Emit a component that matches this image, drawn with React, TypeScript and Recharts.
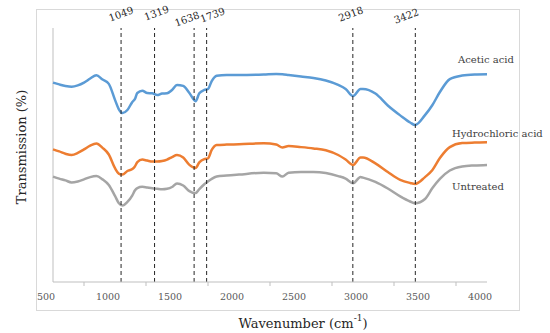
import { LineChart, Line, XAxis, YAxis, ReferenceLine, ReferenceDot } from "recharts";

// FTIR spectra, transmission in arbitrary units (no y scale shown in the figure)
const wavenumbers = [
  500, 550, 600, 650, 700, 750, 800, 850, 900, 950, 1000, 1030, 1060, 1100, 1140, 1160, 1180, 1220, 1260,
  1300, 1340, 1380, 1420, 1460, 1500, 1550, 1600, 1650, 1680, 1720, 1750, 1780, 1820, 1900, 2000, 2200,
  2300, 2350, 2400, 2500, 2600, 2700, 2800, 2860, 2920, 2980, 3000, 3100, 3200, 3300, 3380, 3420, 3500,
  3560, 3620, 3700, 3800, 3900, 4000,
];

const aceticAcid = [
  78.5, 77.8, 77.2, 76.9, 77.4, 78.5, 80.1, 81.4, 79.7, 78.0, 71.7, 68.1, 66.5, 67.7, 70.9, 72.0, 74.4, 75.3,
  74.4, 74.3, 73.6, 74.2, 74.3, 75.6, 77.6, 77.2, 74.4, 71.2, 74.3, 75.6, 76.0, 79.1, 81.2, 81.5, 81.5, 81.7,
  81.9, 81.8, 81.5, 80.9, 80.3, 79.3, 77.6, 76.0, 73.2, 76.0, 76.0, 74.2, 69.5, 65.6, 62.8, 61.8, 65.7, 69.7,
  74.8, 79.9, 81.3, 81.7, 81.8,
];

const hydrochloricAcid = [
  52.2, 51.4, 50.5, 50.0, 50.8, 52.2, 53.7, 54.5, 52.8, 50.2, 44.8, 42.7, 42.3, 43.7, 44.5, 45.5, 47.2, 48.2,
  47.8, 47.4, 47.4, 47.6, 48.2, 49.2, 50.0, 49.0, 46.1, 44.9, 47.1, 48.4, 48.7, 52.0, 53.9, 54.1, 54.2, 54.6,
  54.1, 53.0, 53.5, 53.1, 52.6, 51.9, 50.0, 48.2, 46.1, 49.0, 49.0, 46.7, 43.3, 40.2, 39.0, 38.6, 41.3, 44.1,
  48.8, 53.1, 54.7, 54.9, 55.0,
];

const untreated = [
  41.5, 40.7, 40.0, 39.2, 39.6, 40.4, 41.3, 41.7, 40.4, 38.2, 33.9, 31.1, 30.1, 31.5, 34.1, 36.0, 37.0, 37.5,
  37.2, 36.9, 36.7, 36.5, 36.7, 37.4, 38.8, 38.0, 35.8, 35.0, 36.6, 38.5, 39.6, 40.6, 41.5, 41.9, 42.3, 43.0,
  42.8, 41.5, 43.0, 43.3, 43.3, 42.9, 41.7, 40.7, 38.9, 41.3, 41.1, 39.4, 36.8, 33.7, 31.7, 31.0, 32.7, 37.0,
  40.6, 43.9, 45.5, 45.9, 46.1,
];

const peaks = [1049, 1319, 1638, 1739, 2918, 3422];
const xTicks = [500, 750, 1000, 1250, 1500, 1750, 2000, 2250, 2500, 2750, 3000, 3250, 3500, 3750, 4000];

// label nudges (px) so crowded peak labels don't overlap
const peakLabelOffset: Record<number, [number, number]> = {
  1049: [0, -14],
  1319: [2, -15],
  1638: [-7, -9],
  1739: [6, -13],
  2918: [-2, -14],
  3422: [-9, -12],
};

const data = wavenumbers.map((w, i) => ({
  w,
  acetic: aceticAcid[i],
  hcl: hydrochloricAcid[i],
  untreated: untreated[i],
}));

const serif = "'DejaVu Serif', serif";
const textStyle = { fontFamily: serif };

const XTick = (props: any) => {
  const { x, y, payload } = props;
  const v = payload.value;
  if (v % 500 !== 0) {
    return <line x1={x} x2={x} y1={y} y2={y + 4} stroke="#bfbfbf" />;
  }
  return (
    <text x={x - 7} y={y + 14} textAnchor="middle" dominantBaseline="central" fontSize={9.5} fill="#595959" style={textStyle}>
      {v}
    </text>
  );
};

// drawn at the top edge of the plot (y = 100) above each dashed line
const peakLabelShape = (p: number) => (props: any) => {
  const [dx, dy] = peakLabelOffset[p] ?? [0, -14];
  const cx = props.cx + dx;
  const cy = props.cy + dy;
  return (
    <text
      x={cx}
      y={cy}
      textAnchor="middle"
      dominantBaseline="central"
      fontSize={10}
      fill="#262626"
      style={{
        fontFamily: serif,
        transform: "rotate(-20deg)",
        transformBox: "fill-box",
        transformOrigin: "center",
      }}
    >
      {p}
    </text>
  );
};

const AxisTitles = () => (
  <g>
    <text x={303} y={323} textAnchor="middle" dominantBaseline="central" fontSize={13} fill="#262626" style={textStyle}>
      Wavenumber (cm
      <tspan dy={-5} fontSize={9}>-1</tspan>
      <tspan dy={5}>)</tspan>
    </text>
    <g transform="translate(21, 147) rotate(-90)">
      <text x={0} y={0} textAnchor="middle" dominantBaseline="central" fontSize={13} fill="#262626" style={textStyle}>
        Transmission (%)
      </text>
    </g>
  </g>
);

const endLabel = (name: string, dx: number, dy: number) => (props: any) => {
  if (props.index !== data.length - 1) return null;
  return (
    <text x={props.x + dx} y={props.y + dy} dominantBaseline="central" fontSize={10} fill="#404040" style={textStyle}>
      {name}
    </text>
  );
};

export default function App() {
  return (
    <div style={{ position: "absolute", left: 0, top: 0, width: 550, height: 333, background: "#fff" }}>
      <div
        style={{
          position: "absolute",
          left: 36,
          top: 9,
          width: 484,
          height: 302,
          border: "1px solid #d9d9d9",
          boxSizing: "border-box",
        }}
      />
      <LineChart
        width={550}
        height={333}
        data={data}
        margin={{ top: 28, right: 63, bottom: 21, left: 53 }}
        style={{ position: "absolute", left: 0, top: 0 }}
      >
        <XAxis
          dataKey="w"
          type="number"
          domain={[500, 4000]}
          ticks={xTicks}
          interval={0}
          height={30}
          tickSize={0}
          tickMargin={0}
          tickLine={false}
          axisLine={{ stroke: "#bfbfbf" }}
          tick={<XTick />}
          label={{ content: () => <AxisTitles /> }}
        />
        <YAxis domain={[0, 100]} hide />
        <ReferenceLine x={500} stroke="#bfbfbf" strokeWidth={1} />
        <Line
          dataKey="acetic"
          type="monotone"
          stroke="#5B9BD5"
          strokeWidth={2.5}
          dot={false}
          isAnimationActive={false}
          label={endLabel("Acetic acid", -29, -15)}
        />
        <Line
          dataKey="hcl"
          type="monotone"
          stroke="#ED7D31"
          strokeWidth={2.5}
          dot={false}
          isAnimationActive={false}
          label={endLabel("Hydrochloric acid", -35, -9)}
        />
        <Line
          dataKey="untreated"
          type="monotone"
          stroke="#A5A5A5"
          strokeWidth={2.5}
          dot={false}
          isAnimationActive={false}
          label={endLabel("Untreated", -35, 22)}
        />
        {peaks.map((p) => (
          <ReferenceLine key={p} x={p} stroke="#262626" strokeDasharray="4 3" strokeWidth={1} />
        ))}
        {peaks.map((p) => (
          <ReferenceDot key={`lbl-${p}`} x={p} y={100} ifOverflow="visible" shape={peakLabelShape(p)} />
        ))}
      </LineChart>
    </div>
  );
}
